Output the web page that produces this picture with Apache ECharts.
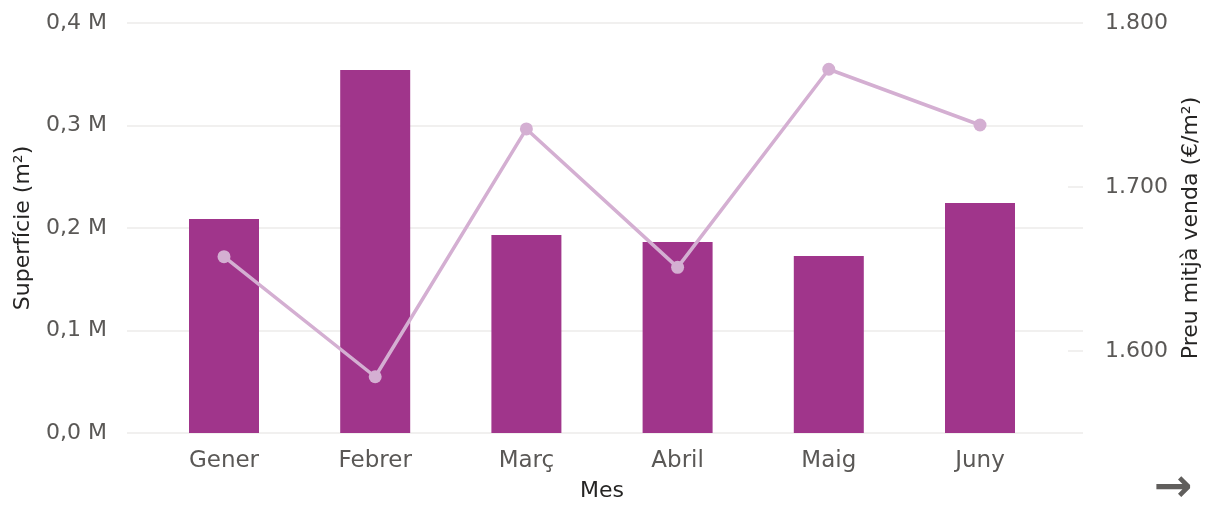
<!DOCTYPE html>
<html>
<head>
<meta charset="utf-8">
<script src="https://cdn.jsdelivr.net/npm/echarts@6/dist/echarts.min.js"></script>
<style>
html,body{margin:0;padding:0;background:#fff;}
#chart{width:1224px;height:509px;}
</style>
</head>
<body>
<div id="chart"></div>
<script>
const months = ['Gener','Febrer','Març','Abril','Maig','Juny'];
const superficie = [208800, 354100, 193200, 186300, 172700, 224400];
const preu = [1657.5, 1584.3, 1735.4, 1651.0, 1771.8, 1737.8];
const leftTicks = [0, 100000, 200000, 300000, 400000];
const rightLabels = [1600, 1700, 1800];
const rightTicks = [1600, 1700];

const FONT = 'DejaVu Sans';
const chart = echarts.init(document.getElementById('chart'));
const gridTop = 23, gridH = 410;
chart.setOption({
  animation: false,
  textStyle: {fontFamily: FONT},
  grid: [
    {left: 127, right: 141, top: gridTop, height: gridH, outerBoundsMode: 'none', containLabel: false},
    {left: 148.4, right: 168.4, top: gridTop, height: gridH, outerBoundsMode: 'none', containLabel: false}
  ],
  xAxis: [
    {type: 'category', gridIndex: 0, data: months, show: false},
    {type: 'category', gridIndex: 1, data: months,
     axisLine: {show: false}, axisTick: {show: false},
     axisLabel: {color: '#5a5856', fontSize: 23, fontFamily: FONT, margin: 17},
     name: 'Mes', nameLocation: 'middle', nameGap: 47,
     nameTextStyle: {color: '#252423', fontSize: 22, fontFamily: FONT}}
  ],
  yAxis: [
    {type: 'value', gridIndex: 0, position: 'left', min: 0, max: 400000, interval: 100000,
     axisLine: {show: false}, axisTick: {show: false},
     splitLine: {show: true, lineStyle: {color: '#f1f0ef', width: 2}},
     axisLabel: {color: '#5a5856', fontSize: 22, fontFamily: FONT, margin: 20,
       customValues: leftTicks,
       formatter: v => (v / 1000000).toFixed(1).replace('.', ',') + ' M'},
     name: 'Superfície (m²)', nameLocation: 'middle', nameGap: 93, nameRotate: 90,
     nameTextStyle: {color: '#252423', fontSize: 22, fontFamily: FONT}},
    {type: 'value', gridIndex: 0, position: 'right', min: 1550, max: 1800, interval: 50,
     axisLine: {show: false},
     axisTick: {show: true, inside: true, length: 15, customValues: rightTicks,
       lineStyle: {color: '#f1f0ef', width: 2}},
     splitLine: {show: false},
     axisLabel: {color: '#5a5856', fontSize: 22, fontFamily: FONT, margin: 22,
       customValues: rightLabels,
       formatter: v => Math.floor(v / 1000) + '.' + String(v % 1000).padStart(3, '0')},
     name: 'Preu mitjà venda (€/m²)', nameLocation: 'middle', nameGap: 97, nameRotate: 90,
     nameTextStyle: {color: '#252423', fontSize: 22, fontFamily: FONT}},
    {type: 'value', gridIndex: 1, min: 0, max: 400000, show: false, splitLine: {show: false}},
    {type: 'value', gridIndex: 1, min: 1550, max: 1800, show: false, splitLine: {show: false}}
  ],
  series: [
    {type: 'bar', xAxisIndex: 1, yAxisIndex: 2, data: superficie, barWidth: 70,
     itemStyle: {color: '#a0358b'}},
    {type: 'line', xAxisIndex: 1, yAxisIndex: 3, data: preu,
     symbol: 'circle', symbolSize: 13, showSymbol: true,
     lineStyle: {color: '#d4afd2', width: 3.5},
     itemStyle: {color: '#d4afd2'}}
  ],
  graphic: [
    {type: 'text', left: 1154, top: 466,
     style: {text: '→', fontSize: 46, fontWeight: 'bold', fill: '#605e5c', fontFamily: FONT}}
  ]
});
</script>
</body>
</html>
